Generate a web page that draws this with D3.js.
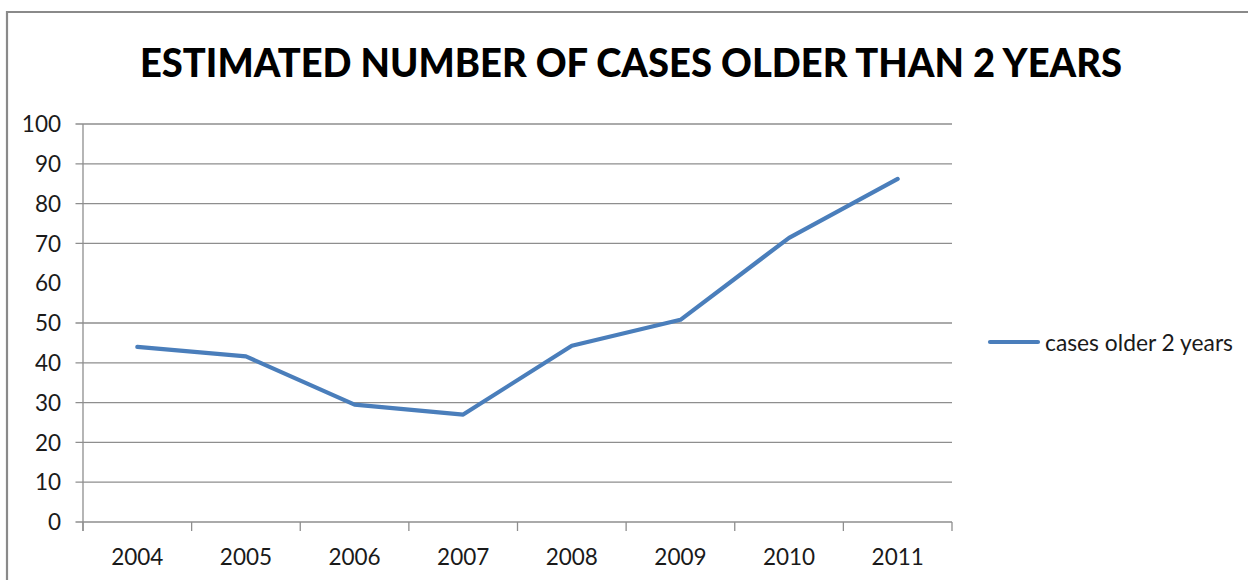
<!DOCTYPE html>
<html>
<head>
<meta charset="utf-8">
<script src="https://cdn.jsdelivr.net/npm/d3@7"></script>
<style>
  html, body { margin: 0; padding: 0; background: #fff; }
  svg { display: block; }
</style>
</head>
<body>
<svg id="chart" width="1248" height="580"></svg>
<script>
// Estimated number of cases older than 2 years, by year
const years = ["2004", "2005", "2006", "2007", "2008", "2009", "2010", "2011"];
const cases = [44, 41.6, 29.5, 27, 44.3, 50.8, 71.4, 86.2];
const yTicks = [0, 10, 20, 30, 40, 50, 60, 70, 80, 90, 100];
const gridTicks = [10, 20, 30, 40, 50, 70, 80, 90, 100];
const seriesName = "cases older 2 years";
const title = "ESTIMATED NUMBER OF CASES OLDER THAN 2 YEARS";

const W = 1248, H = 580;
const plot = { left: 83, right: 952, top: 124, bottom: 522 };
const font = "Lato, 'Open Sans', sans-serif";
const blue = "#4a7ebb";
const gray = "#8e8e8e";

const svg = d3.select("#chart");

// Outer frame (top and left edges)
svg.append("path")
  .attr("d", `M7,${H} L7,12 L${W},12`)
  .attr("fill", "none")
  .attr("stroke", "#8a8a8a")
  .attr("stroke-width", 2.2);

// Title
svg.append("text")
  .attr("x", 631).attr("y", 77)
  .attr("text-anchor", "middle")
  .attr("font-family", font)
  .attr("font-weight", 900)
  .attr("font-size", 40)
  .attr("textLength", 982)
  .attr("lengthAdjust", "spacingAndGlyphs")
  .attr("fill", "#000")
  .text(title);

const x = d3.scaleBand().domain(years).range([plot.left, plot.right]).padding(0);
const y = d3.scaleLinear().domain([0, 100]).range([plot.bottom, plot.top]);

// Horizontal gridlines with their tick marks
svg.append("g").selectAll("line").data(gridTicks).join("line")
  .attr("x1", plot.left - 7.5).attr("x2", plot.right)
  .attr("y1", d => y(d)).attr("y2", d => y(d))
  .attr("stroke", gray).attr("stroke-width", 1.3);

// Y-axis line
svg.append("line")
  .attr("x1", plot.left).attr("x2", plot.left)
  .attr("y1", plot.top).attr("y2", plot.bottom + 9)
  .attr("stroke", gray).attr("stroke-width", 1.3);

// X-axis line and tick marks at category boundaries
svg.append("line")
  .attr("x1", plot.left - 7.5).attr("x2", plot.right)
  .attr("y1", plot.bottom).attr("y2", plot.bottom)
  .attr("stroke", gray).attr("stroke-width", 1.3);

const boundaries = years.map(d => x(d)).concat([x(years[years.length - 1]) + x.bandwidth()]);
svg.append("g").selectAll("line").data(boundaries).join("line")
  .attr("x1", d => d).attr("x2", d => d)
  .attr("y1", plot.bottom).attr("y2", plot.bottom + 9)
  .attr("stroke", gray).attr("stroke-width", 1.3);

// Y tick labels
svg.append("g").selectAll("text").data(yTicks).join("text")
  .attr("x", 61).attr("y", d => y(d))
  .attr("dy", "0.36em")
  .attr("text-anchor", "end")
  .attr("font-family", font)
  .attr("font-size", 22.5)
  .attr("fill", "#1a1a1a")
  .text(d => d);

// X tick labels
svg.append("g").selectAll("text").data(years).join("text")
  .attr("x", d => x(d) + x.bandwidth() / 2).attr("y", 565)
  .attr("text-anchor", "middle")
  .attr("font-family", font)
  .attr("font-size", 22.5)
  .attr("fill", "#1a1a1a")
  .text(d => d);

// Series line
const line = d3.line()
  .x((d, i) => x(years[i]) + x.bandwidth() / 2)
  .y(d => y(d));

svg.append("path")
  .datum(cases)
  .attr("d", line)
  .attr("fill", "none")
  .attr("stroke", blue)
  .attr("stroke-width", 4.2)
  .attr("stroke-linejoin", "round")
  .attr("stroke-linecap", "round");

// Legend
svg.append("line")
  .attr("x1", 990).attr("x2", 1038)
  .attr("y1", 342).attr("y2", 342)
  .attr("stroke", blue).attr("stroke-width", 4.2)
  .attr("stroke-linecap", "round");

svg.append("text")
  .attr("x", 1045).attr("y", 350.5)
  .attr("font-family", font)
  .attr("font-size", 22.8)
  .attr("fill", "#1a1a1a")
  .text(seriesName);
</script>
</body>
</html>
